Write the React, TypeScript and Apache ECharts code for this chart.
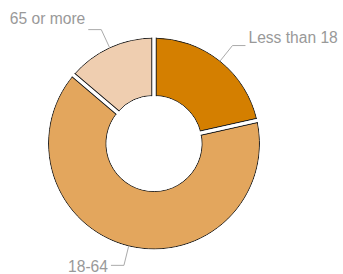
import React, { useEffect, useRef } from "react";
import * as echarts from "echarts";

const categories = ["Less than 18", "18-64", "65 or more"];
const shares = [21.5, 64.7, 13.8];
const sliceColors = ["#D47F00", "#E3A65D", "#EFCEB0"];

export default function App() {
  const ref = useRef<HTMLDivElement>(null);
  useEffect(() => {
    const chart = echarts.init(ref.current!, null, { renderer: "svg" });
    const center = [154, 143.5];
    const rIn = 48;
    const rOut = 105.5;
    const far = 320;
    const data = categories.map((name, i) => ({ name, value: shares[i] }));
    const base: any = {
      type: "pie",
      center,
      startAngle: 90,
      clockwise: true,
      silent: true,
      avoidLabelOverlap: false,
      label: { show: false },
      labelLine: { show: false },
      emphasis: { disabled: true },
    };
    // vertical offset of each label's text relative to its leader line end (layout only)
    const labelTemplate = ["{t|{b}}\n{g1|}", "{g2|}\n{t|{b}}", "{t|{b}}\n{g3|}"];
    chart.setOption({
      animation: false,
      series: [
        {
          ...base,
          radius: [rIn, rOut],
          data: data.map((d, i) => ({ ...d, itemStyle: { color: sliceColors[i] } })),
          itemStyle: { borderColor: "#222", borderWidth: 1 },
        },
        {
          ...base,
          radius: [0, far],
          data,
          itemStyle: { color: "transparent", borderColor: "#222", borderWidth: 5 },
        },
        {
          ...base,
          radius: [0, far],
          data,
          itemStyle: { color: "transparent", borderColor: "#fff", borderWidth: 3 },
        },
        {
          ...base,
          radius: [rOut + 0.5, far],
          data: [{ name: "", value: 1 }],
          itemStyle: { color: "#fff", borderWidth: 0 },
        },
        {
          ...base,
          radius: [0, rIn - 0.5],
          data: [{ name: "", value: 1 }],
          itemStyle: { color: "#fff", borderWidth: 0 },
        },
        {
          ...base,
          z: 10,
          radius: [rIn, rOut],
          data: data.map((d, i) => ({ ...d, label: { formatter: labelTemplate[i] } })),
          itemStyle: { color: "transparent", borderWidth: 0 },
          label: {
            show: true,
            position: "outside",
            color: "#999",
            fontSize: 15.6,
            fontFamily: "'Liberation Sans', Arial, sans-serif",
            distanceToLabelLine: 3,
            overflow: "none",
            rich: {
              t: {
                color: "#999",
                fontSize: 15.6,
                lineHeight: 16,
                fontFamily: "'Liberation Sans', Arial, sans-serif",
              },
              g1: { lineHeight: 17, fontSize: 1 },
              g2: { lineHeight: 2, fontSize: 1 },
              g3: { lineHeight: 22, fontSize: 1 },
            },
          },
          labelLine: {
            show: true,
            length: 20,
            length2: 13,
            lineStyle: { color: "#aaa", width: 1 },
          },
        },
      ],
    });
    return () => chart.dispose();
  }, []);
  return (
    <div
      ref={ref}
      style={{ position: "absolute", left: 0, top: 0, width: 343, height: 274 }}
    />
  );
}
